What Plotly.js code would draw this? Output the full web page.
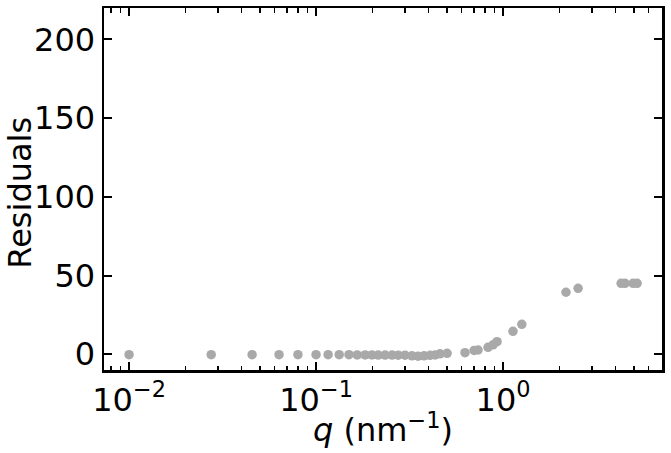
<!DOCTYPE html>
<html>
<head>
<meta charset="utf-8">
<script src="https://cdn.plot.ly/plotly-3.0.1.min.js"></script>
<style>html,body{margin:0;padding:0;background:#fff;}#chart{width:671px;height:453px;}</style>
</head>
<body>
<div id="chart"></div>
<script>
const qValues = [0.01, 0.0275, 0.0455, 0.0634, 0.080, 0.100, 0.116, 0.133, 0.150, 0.166, 0.183, 0.199, 0.215, 0.234, 0.255, 0.275, 0.299, 0.326, 0.351, 0.378, 0.407, 0.433, 0.460, 0.502, 0.626, 0.700, 0.735, 0.831, 0.884, 0.929, 1.13, 1.26, 2.17, 2.52, 4.28, 4.49, 4.96, 5.21];
const residuals = [-0.3, -0.3, -0.3, -0.3, -0.3, -0.3, -0.3, -0.3, -0.3, -0.4, -0.4, -0.4, -0.5, -0.5, -0.5, -0.6, -0.6, -1.0, -1.2, -1.0, -0.7, -0.4, 0.3, 0.6, 1.0, 2.4, 2.7, 4.4, 6.0, 8.0, 14.6, 19.0, 39.4, 41.9, 45.1, 45.1, 45.1, 45.1];
const majorTickVals = [0.01, 0.1, 1];
const majorTickText = ['10<sup>−2</sup>', '10<sup>−1</sup>', '10<sup>0</sup>'];
const minorTickVals = [];
[0.001, 0.01, 0.1, 1].forEach(d => { for (let k = 2; k <= 9; k++) minorTickVals.push(d * k); });
const yTickVals = [0, 50, 100, 150, 200];
const xTitle = '<i>q</i> (nm<sup>−1</sup>)';
const yTitle = 'Residuals';

const font = {family: 'DejaVu Sans', size: 32, color: '#000'};
const trace = {
  x: qValues, y: residuals, type: 'scatter', mode: 'markers',
  marker: {color: '#a9a9a9', size: 9.5}, cliponaxis: false, showlegend: false
};
const layout = {
  width: 671, height: 453,
  margin: {l: 104, r: 9, t: 8, b: 83},
  paper_bgcolor: '#fff', plot_bgcolor: '#fff',
  font: font,
  xaxis: {
    type: 'log', range: [-2.134, 0.850],
    tickmode: 'array', tickvals: majorTickVals, ticktext: majorTickText,
    ticks: 'inside', ticklen: 8, tickwidth: 2, tickcolor: '#000',
    minor: {tickmode: 'array', tickvals: minorTickVals, ticks: 'inside', ticklen: 4.5, tickwidth: 1.6, tickcolor: '#000', showgrid: false},
    showline: true, linewidth: 2.5, linecolor: '#000', mirror: 'ticks',
    showgrid: false, zeroline: false, automargin: false,
    tickfont: font
  },
  yaxis: {
    range: [-10, 220],
    tickmode: 'array', tickvals: yTickVals,
    ticks: 'inside', ticklen: 8, tickwidth: 2, tickcolor: '#000',
    showline: true, linewidth: 2.5, linecolor: '#000', mirror: 'ticks',
    showgrid: false, zeroline: false, automargin: false,
    tickfont: font
  },
  annotations: [
    {text: xTitle, xref: 'paper', yref: 'paper', x: 0.5, y: -0.16, xanchor: 'center', yanchor: 'middle', showarrow: false, font: font},
    {text: yTitle, xref: 'paper', yref: 'paper', x: -0.1505, y: 0.49, xanchor: 'center', yanchor: 'middle', textangle: -90, showarrow: false, font: font}
  ]
};
Plotly.newPlot('chart', [trace], layout, {displayModeBar: false, staticPlot: true});
</script>
</body>
</html>
